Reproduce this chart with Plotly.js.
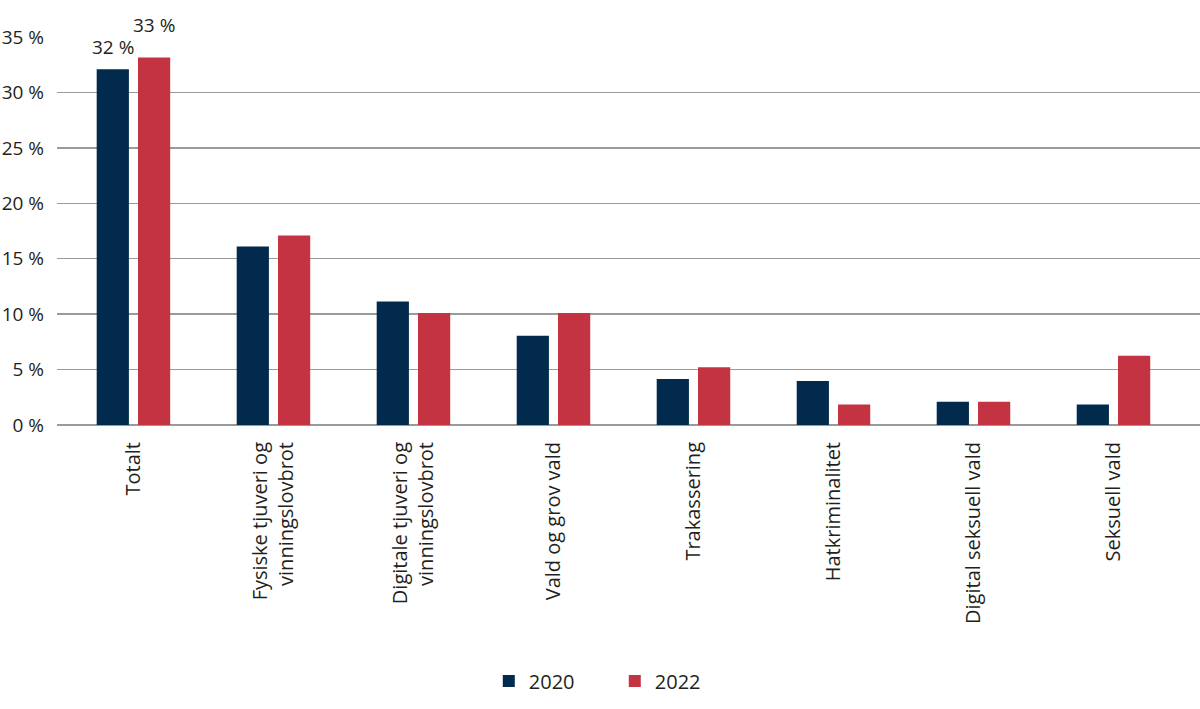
<!DOCTYPE html>
<html>
<head>
<meta charset="utf-8">
<script src="https://cdn.plot.ly/plotly-3.0.1.min.js"></script>
<style>html,body{margin:0;padding:0;background:#fff;}#chart{width:1200px;height:709px;}</style>
</head>
<body>
<div id="chart"></div>
<script>
const categories = [
  "Totalt",
  "Fysiske tjuveri og<br>vinningslovbrot",
  "Digitale tjuveri og<br>vinningslovbrot",
  "Vald og grov vald",
  "Trakassering",
  "Hatkriminalitet",
  "Digital seksuell vald",
  "Seksuell vald"
];
const values2020 = [32.1, 16.1, 11.15, 8.05, 4.15, 3.96, 2.1, 1.85];
const values2022 = [33.15, 17.1, 10.1, 10.1, 5.2, 1.85, 2.1, 6.25];
const seriesNames = ["2020", "2022"];
const labelledCategory = "Totalt";
const labelText = ["32 %", "33 %"];
const tickValues = [0, 5, 10, 15, 20, 25, 30, 35];
const tickLabels = ["0 %", "5 %", "10 %", "15 %", "20 %", "25 %", "30 %", "35 %"];

const colors = ["#012a4c", "#c43341"];
const textColor = "#231f20";
const fontFam = "'Open Sans', 'Noto Sans', sans-serif";

const traces = [values2020, values2022].map((vals, i) => ({
  type: "bar",
  name: seriesNames[i],
  x: categories,
  y: vals,
  marker: {color: colors[i]},
  hoverinfo: "x+y"
}));

const idx = categories.indexOf(labelledCategory);
const annotations = [
  {x: labelledCategory, y: values2020[idx], text: labelText[0], xshift: -20.5, yshift: 7},
  {x: labelledCategory, y: values2022[idx], text: labelText[1], xshift: 20.5, yshift: 18}
].map(a => Object.assign({
  xref: "x", yref: "y", showarrow: false, yanchor: "bottom",
  font: {family: fontFam, size: 19, color: textColor}
}, a));

const layout = {
  width: 1200, height: 709,
  margin: {l: 57, r: 0, t: 37, b: 284},
  paper_bgcolor: "#fff", plot_bgcolor: "#fff",
  barmode: "group",
  bargap: 0.41,
  bargroupgap: 0.22,
  font: {family: fontFam, size: 19, color: textColor},
  xaxis: {
    type: "category",
    range: [-0.546, 7.618],
    tickangle: -90,
    showgrid: false,
    showline: false,
    ticks: "",
    zeroline: false,
    automargin: false,
    ticklabelstandoff: 12,
    tickfont: {family: fontFam, size: 20, color: textColor},
    fixedrange: true
  },
  yaxis: {
    range: [0, 35],
    tickvals: tickValues,
    ticktext: tickLabels,
    showgrid: true,
    gridcolor: "#9a9a9a",
    gridwidth: 1.3,
    zeroline: true,
    zerolinecolor: "#9a9a9a",
    zerolinewidth: 1.3,
    showline: false,
    ticks: "",
    automargin: false,
    ticklabelstandoff: 12,
    tickfont: {family: fontFam, size: 19, color: textColor},
    fixedrange: true
  },
  legend: {
    orientation: "h",
    x: 0.488, xanchor: "center",
    y: -0.66, yanchor: "middle",
    font: {family: fontFam, size: 20, color: textColor},
    entrywidth: 81, entrywidthmode: "pixels",
    traceorder: "normal"
  },
  annotations: annotations,
  showlegend: true
};

Plotly.newPlot("chart", traces, layout, {displayModeBar: false, staticPlot: true});
</script>
</body>
</html>
